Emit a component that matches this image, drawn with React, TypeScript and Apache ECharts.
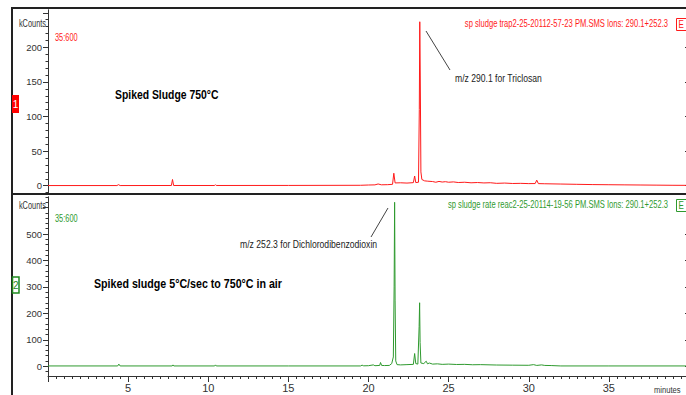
import React, { useEffect, useRef } from "react";
import * as echarts from "echarts";

// Top trace (red): time in minutes, intensity in kCounts
const redTimes = [0, 4.3, 4.4, 4.5, 7.7, 7.77, 7.84, 10.4, 10.45, 10.5, 15, 19.5, 20, 20.4, 20.6, 20.8, 21.2, 21.5, 21.58, 21.66, 22, 22.4, 22.8, 22.88, 22.95, 23.12, 23.17, 23.2, 23.23, 23.27, 23.33, 23.5, 23.7, 24, 24.2, 24.4, 24.6, 24.8, 25, 25.3, 25.6, 26, 26.4, 26.8, 27.2, 27.6, 28, 28.5, 29, 29.5, 30, 30.4, 30.5, 30.6, 31, 32, 33, 34, 35, 36, 37, 38, 39, 40];
const redCounts = [0.2, 0.2, 1.5, 0.2, 0.3, 9, 0.3, 0.3, 1.5, 0.3, 0.4, 0.6, 1, 1.2, 2.5, 1.3, 1.5, 2, 18, 4, 4.2, 3.8, 4.4, 14, 4.5, 5, 110, 237, 160, 20, 9, 7, 6.5, 6, 5, 6.2, 5.3, 5.8, 5, 5.5, 4.6, 5, 4.2, 4.6, 4, 4.3, 3.4, 3.8, 3.2, 3.4, 3, 3.1, 8, 3, 2.8, 2.4, 2, 1.6, 1.4, 1.2, 1, 0.8, 0.6, 0.5];

// Bottom trace (green)
const greenTimes = [0, 4.35, 4.42, 4.5, 7.75, 7.8, 7.85, 10.4, 10.45, 10.5, 15, 19.5, 19.6, 19.7, 20, 20.3, 20.4, 20.7, 20.75, 20.82, 21, 21.3, 21.45, 21.55, 21.6, 21.63, 21.66, 21.7, 21.78, 22, 22.4, 22.8, 22.88, 22.95, 23.08, 23.16, 23.19, 23.22, 23.27, 23.45, 23.6, 23.68, 23.8, 24, 24.3, 24.6, 25, 25.5, 26, 26.5, 27, 28, 29, 30, 30.3, 30.5, 30.8, 31, 31.4, 32, 35, 40];
const greenCounts = [1, 1, 8, 1, 1, 5, 1, 1, 5, 1, 1, 1, 4, 1.5, 2, 5, 2, 3, 14, 3, 2.5, 3, 10, 35, 300, 620, 250, 20, 6, 5, 6, 7, 48, 10, 8, 150, 240, 90, 12, 10, 19, 9, 12, 8, 9, 7, 8, 6.5, 7, 5.5, 6, 4.5, 4, 3.5, 6, 3, 5, 3, 2.5, 1, 1, 1];

const topMajorTicks = [0, 50, 100, 150, 200, 250];
const topLabelTicks = [0, 50, 100, 150, 200];
const topMinorTicks = [-10, 0, 10, 20, 30, 40, 50, 60, 70, 80, 90, 100, 110, 120, 130, 140, 150, 160, 170, 180, 190, 200, 210, 220, 230, 240, 250];
const botMajorTicks = [0, 100, 200, 300, 400, 500, 600];
const botLabelTicks = [0, 100, 200, 300, 400, 500];
const botMinorTicks = [-20, 0, 20, 40, 60, 80, 100, 120, 140, 160, 180, 200, 220, 240, 260, 280, 300, 320, 340, 360, 380, 400, 420, 440, 460, 480, 500, 520, 540, 560, 580, 600, 620, 640];

const FONT = "'Liberation Sans', Arial, sans-serif";
const RED = "#ff1a1a";
const GREEN = "#2f9a2f";
const AXIS = "#333333";
const NARROW = 0.77;

export default function App() {
  const ref = useRef<HTMLDivElement>(null);
  useEffect(() => {
    if (!ref.current) return;
    const chart = echarts.init(ref.current, undefined, { renderer: "svg" });
    const yBase = (grid: number, min: number, max: number) => ({
      type: "value" as const,
      gridIndex: grid,
      min,
      max,
      splitLine: { show: false },
      axisLine: { show: true, onZero: false, lineStyle: { color: AXIS, width: 1 } },
    });
    const redData = redTimes.map((t, i) => [t, redCounts[i]]);
    const greenData = greenTimes.map((t, i) => [t, greenCounts[i]]);
    const labelStyle = { color: AXIS, fontFamily: FONT, fontSize: 9.5 };
    const txt = (
      x: number,
      y: number,
      text: string,
      fill: string,
      fontSize: number,
      align: string = "left",
      bold = false,
      sx = NARROW
    ) => ({
      type: "text",
      x,
      y,
      scaleX: sx,
      z: 50,
      style: {
        text,
        fill,
        fontFamily: FONT,
        fontSize,
        fontWeight: bold ? "bold" : "normal",
        textAlign: align,
        textVerticalAlign: "middle",
      },
    });
    chart.setOption({
      animation: false,
      backgroundColor: "#ffffff",
      grid: [
        { left: 48, top: 10, right: -3, height: 184, outerBoundsMode: "none", containLabel: false },
        { left: 48, top: 197, right: -3, height: 179, outerBoundsMode: "none", containLabel: false },
      ],
      xAxis: [
        { type: "value", gridIndex: 0, min: 0, max: 40, interval: 5, show: false },
        {
          type: "value",
          gridIndex: 1,
          min: 0,
          max: 40,
          interval: 5,
          splitLine: { show: false },
          axisLine: { onZero: false, lineStyle: { color: AXIS, width: 1 } },
          axisTick: { length: 6, lineStyle: { color: AXIS } },
          minorTick: { show: true, splitNumber: 10, length: 3, lineStyle: { color: AXIS } },
          axisLabel: {
            ...labelStyle,
            fontSize: 11,
            margin: 6,
            formatter: (v: number) => (v === 0 || v === 40 ? "" : String(v)),
          },
        },
      ],
      yAxis: [
        {
          ...yBase(0, -12, 254),
          position: "left",
          axisTick: { length: 5, customValues: topMajorTicks, lineStyle: { color: AXIS } },
          axisLabel: { ...labelStyle, margin: 6, customValues: topLabelTicks },
        },
        {
          ...yBase(0, -12, 254),
          position: "left",
          axisTick: { length: 2.5, customValues: topMinorTicks, lineStyle: { color: AXIS } },
          axisLabel: { show: false },
        },
        {
          ...yBase(0, -12, 254),
          position: "right",
          axisTick: { inside: true, length: 4, customValues: topLabelTicks, lineStyle: { color: AXIS } },
          axisLabel: { show: false },
        },
        {
          ...yBase(1, -37, 640),
          position: "left",
          axisTick: { length: 5, customValues: botMajorTicks, lineStyle: { color: AXIS } },
          axisLabel: { ...labelStyle, margin: 6, customValues: botLabelTicks },
        },
        {
          ...yBase(1, -37, 640),
          position: "left",
          axisTick: { length: 2.5, customValues: botMinorTicks, lineStyle: { color: AXIS } },
          axisLabel: { show: false },
        },
        {
          ...yBase(1, -37, 640),
          position: "right",
          axisTick: { inside: true, length: 4, customValues: botLabelTicks, lineStyle: { color: AXIS } },
          axisLabel: { show: false },
        },
      ],
      series: [
        {
          type: "line",
          xAxisIndex: 0,
          yAxisIndex: 0,
          data: redData,
          showSymbol: false,
          lineStyle: { color: RED, width: 1 },
          silent: true,
        },
        {
          type: "line",
          xAxisIndex: 1,
          yAxisIndex: 3,
          data: greenData,
          showSymbol: false,
          lineStyle: { color: GREEN, width: 1 },
          silent: true,
        },
      ],
      graphic: [
        // frame
        { type: "rect", shape: { x: 11, y: 7, width: 680, height: 2 }, style: { fill: "#222" }, z: 100 },
        { type: "rect", shape: { x: 11, y: 7, width: 2, height: 390 }, style: { fill: "#222" }, z: 100 },
        { type: "rect", shape: { x: 11, y: 193, width: 680, height: 2 }, style: { fill: "#222" }, z: 100 },
        // panel markers
        { type: "rect", shape: { x: 12, y: 95, width: 7, height: 18 }, style: { fill: "#ff0000" }, z: 101 },
        { type: "text", x: 15.5, y: 104, style: { text: "1", fill: "#fff", fontFamily: FONT, fontSize: 10, textAlign: "center", textVerticalAlign: "middle" }, z: 102 },
        { type: "rect", shape: { x: 12.5, y: 277, width: 6.5, height: 16 }, style: { fill: "#fff", stroke: "#1f8a1f", lineWidth: 1.5 }, z: 101 },
        { type: "text", x: 15.8, y: 285, style: { text: "2", fill: "#1f8a1f", fontFamily: FONT, fontSize: 10, textAlign: "center", textVerticalAlign: "middle" }, z: 102 },
        // axis units
        txt(46, 24, "kCounts", AXIS, 10, "right", false, 0.74),
        txt(46, 206, "kCounts", AXIS, 10, "right", false, 0.74),
        { type: "text", x: 654, y: 385, scaleX: 0.8, style: { text: "minutes", fill: AXIS, fontFamily: FONT, fontSize: 9.5, textAlign: "left", textVerticalAlign: "top" } },
        // scan range labels
        txt(55, 38, "35:600", RED, 10, "left", false, 0.74),
        txt(55, 219, "35:600", GREEN, 10, "left", false, 0.74),
        // file headers
        txt(668, 24, "sp sludge trap2-25-20112-57-23 PM.SMS Ions: 290.1+252.3", RED, 10, "right", false, 0.76),
        txt(668, 205, "sp sludge rate reac2-25-20114-19-56 PM.SMS Ions: 290.1+252.3", GREEN, 10, "right", false, 0.76),
        { type: "rect", shape: { x: 676.5, y: 18.5, width: 12, height: 12 }, style: { fill: "#fff", stroke: RED, lineWidth: 1 } },
        txt(678.5, 24.5, "E", RED, 10, "left", false, 0.8),
        { type: "rect", shape: { x: 676.5, y: 199.5, width: 12, height: 12 }, style: { fill: "#fff", stroke: GREEN, lineWidth: 1 } },
        txt(678.5, 205.5, "E", GREEN, 10, "left", false, 0.8),
        // sample titles
        txt(115, 95, "Spiked Sludge 750°C", "#000", 13.5, "left", true, 0.77),
        txt(94, 284, "Spiked sludge 5°C/sec to 750°C in air", "#000", 13.5, "left", true, 0.79),
        // annotations
        { type: "line", shape: { x1: 426, y1: 31, x2: 450, y2: 70 }, style: { stroke: "#444", lineWidth: 1 } },
        txt(455, 78, "m/z 290.1 for Triclosan", "#222", 11, "left", false, 0.78),
        { type: "line", shape: { x1: 388, y1: 208, x2: 371, y2: 237 }, style: { stroke: "#444", lineWidth: 1 } },
        txt(240, 244, "m/z 252.3 for Dichlorodibenzodioxin", "#222", 11, "left", false, 0.785),
      ],
    });
    return () => chart.dispose();
  }, []);
  return (
    <div
      ref={ref}
      style={{ position: "fixed", left: 0, top: 0, width: 686, height: 395, background: "#fff" }}
    />
  );
}
